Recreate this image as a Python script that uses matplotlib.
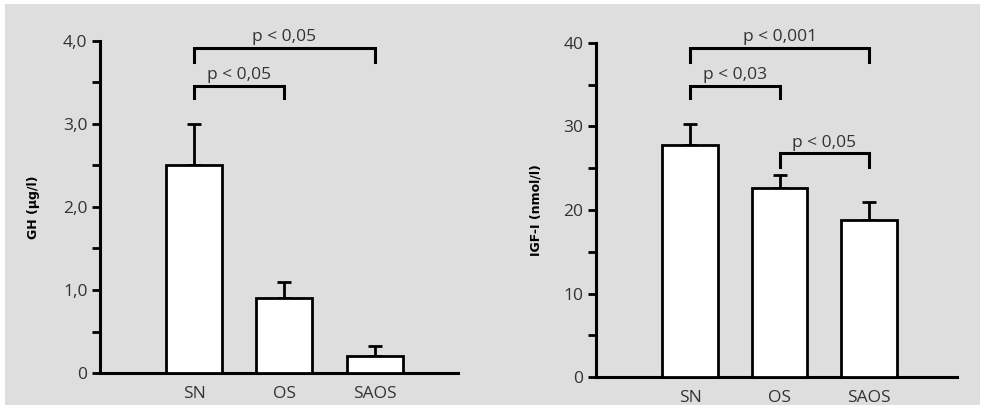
import numpy as np
import matplotlib
matplotlib.use("Agg")
from matplotlib import pyplot as plt
from matplotlib.patches import Rectangle

groups = ['SN', 'OS', 'SAOS']

gh_mean = [2.5, 0.9, 0.2]
gh_err = [0.5, 0.2, 0.12]
gh_ticks = [0, 1, 2, 3, 4]
gh_ticklabels = ['0', '1,0', '2,0', '3,0', '4,0']

igf_mean = [27.8, 22.6, 18.8]
igf_err = [2.5, 1.6, 2.1]
igf_ticks = [0, 10, 20, 30, 40]
igf_ticklabels = ['0', '10', '20', '30', '40']

# brackets: (from group, to group, bar height, leg bottom, label)
gh_brackets = [(0, 2, 3.92, 3.75, 'p < 0,05'),
               (0, 1, 3.46, 3.31, 'p < 0,05')]
igf_brackets = [(0, 2, 39.4, 37.7, 'p < 0,001'),
                (0, 1, 34.9, 33.4, 'p < 0,03'),
                (1, 2, 26.8, 25.1, 'p < 0,05')]

bg = '#dedede'
txt = '#333333'
fs = 12.5
plt.rcParams['font.family'] = ['Open Sans', 'DejaVu Sans']

fig = plt.figure(figsize=(9.86, 4.11), dpi=100)
fig.patch.set_facecolor('white')
fig.patches.append(Rectangle((5 / 986, 6 / 411), 975 / 986, 401 / 411,
                             transform=fig.transFigure, facecolor=bg,
                             edgecolor='none', zorder=-10))


def panel(rect, means, errs, ticks, ticklabels, ymax, minor, ylabel, brackets, xlim, lab_x):
    ax = fig.add_axes(rect)
    ax.set_facecolor('none')
    x = np.arange(len(groups))
    ax.bar(x, means, width=0.62, color='white', edgecolor='black', linewidth=2, zorder=3)
    ax.errorbar(x, means, yerr=[np.zeros(len(errs)), errs], fmt='none', ecolor='black',
                elinewidth=2, capsize=5, capthick=2, zorder=2)
    ax.set_xlim(*xlim)
    ax.set_ylim(0, ymax)
    ax.set_yticks(ticks)
    ax.set_yticklabels(ticklabels, fontsize=fs, color=txt)
    ax.set_yticks(np.arange(0, ymax + minor / 2, minor), minor=True)
    ax.tick_params(axis='y', which='both', length=6, width=2, direction='out', pad=3)
    ax.set_xticks(x)
    ax.set_xticklabels(groups, fontsize=fs, color=txt)
    ax.tick_params(axis='x', length=0, pad=9)
    for s in ['top', 'right']:
        ax.spines[s].set_visible(False)
    for s in ['left', 'bottom']:
        ax.spines[s].set_linewidth(2.2)
    ax.set_ylabel(ylabel, fontsize=9, fontweight='bold', family=['DejaVu Sans'])
    ax.yaxis.set_label_coords(lab_x, 0.5)
    for a, b, h, leg, lab in brackets:
        ax.plot([a, a, b, b], [leg, h, h, leg], color='black', lw=2.2,
                clip_on=False, solid_joinstyle='miter')
        ax.text((a + b) / 2, h + ymax * 0.008, lab, ha='center', va='bottom',
                fontsize=fs, color=txt, clip_on=False)
    return ax


panel([100 / 986, 38 / 411, 358 / 986, 332 / 411], gh_mean, gh_err, gh_ticks,
      gh_ticklabels, 4.0, 0.5, 'GH (µg/l)', gh_brackets, (-1.04, 2.92), -0.168)
panel([596 / 986, 34 / 411, 361 / 986, 334 / 411], igf_mean, igf_err, igf_ticks,
      igf_ticklabels, 40, 5, 'IGF-I (nmol/l)', igf_brackets, (-1.05, 2.98), -0.147)

fig.savefig('out.png', dpi=100, facecolor=fig.get_facecolor())
